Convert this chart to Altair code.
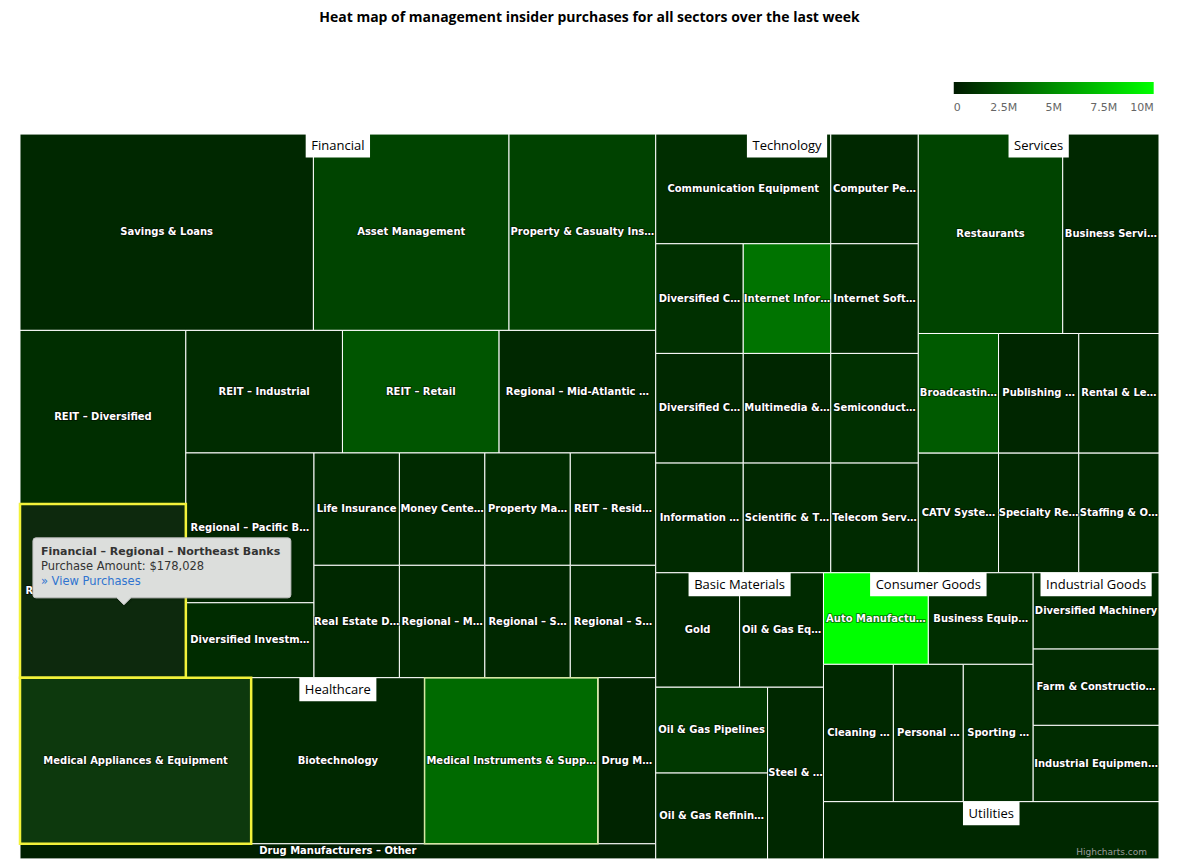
import math
import altair as alt
import pandas as pd

TITLE = "Heat map of management insider purchases for all sectors over the last week"

# ---------------------------------------------------------------- data
sectors = ["Basic Materials", "Consumer Goods", "Financial", "Healthcare",
           "Industrial Goods", "Services", "Technology", "Utilities"]

bm_names = ["Gold", "Oil & Gas Equipment & Services", "Oil & Gas Pipelines",
            "Oil & Gas Refining & Marketing", "Steel & Iron"]
bm_labels = ["Gold", "Oil & Gas Eq…", "Oil & Gas Pipelines", "Oil & Gas Refinin…", "Steel & …"]
bm_counts = [1, 1, 1, 1, 1]
bm_amounts = [610000, 700000, 1310000, 700000, 610000]

cg_names = ["Auto Manufacturers - Major", "Business Equipment", "Cleaning Products",
            "Personal Products", "Sporting Goods"]
cg_labels = ["Auto Manufactu…", "Business Equip…", "Cleaning …", "Personal …", "Sporting …"]
cg_counts = [1, 1, 1, 1, 1]
cg_amounts = [10000000, 870000, 610000, 610000, 790000]

fin_names = ["Asset Management", "Diversified Investments", "Life Insurance",
             "Money Center Banks", "Property & Casualty Insurance", "Property Management",
             "REIT - Diversified", "REIT - Industrial", "REIT - Residential", "REIT - Retail",
             "Real Estate Development", "Regional - Mid-Atlantic Banks",
             "Regional - Midwest Banks", "Regional - Northeast Banks",
             "Regional - Pacific Banks", "Regional - Southeast Banks",
             "Regional - Southwest Banks", "Savings & Loans"]
fin_labels = ["Asset Management", "Diversified Investm…", "Life Insurance", "Money Cente…",
              "Property & Casualty Ins…", "Property Ma…", "REIT – Diversified",
              "REIT – Industrial", "REIT – Resid…", "REIT – Retail", "Real Estate D…",
              "Regional – Mid-Atlantic …", "Regional – M…", "Regional – Northeast Banks",
              "Regional – Pacific B…", "Regional – S…", "Regional – S…", "Savings & Loans"]
fin_counts = [4, 1, 1, 1, 3, 1, 3, 2, 1, 2, 1, 2, 1, 3, 2, 1, 1, 6]
fin_amounts = [1830000, 790000, 790000, 700000, 1750000, 790000, 870000, 790000, 700000,
               2580000, 610000, 610000, 700000, 178028, 520000, 610000, 700000, 610000]

hc_names = ["Biotechnology", "Drug Manufacturers - Major", "Drug Manufacturers - Other",
            "Medical Appliances & Equipment", "Medical Instruments & Supplies"]
hc_labels = ["Biotechnology", "Drug M…", "Drug Manufacturers – Other",
             "Medical Appliances & Equipment", "Medical Instruments & Supp…"]
hc_counts = [3, 1, 1, 4, 3]
hc_amounts = [610000, 440000, 260000, 900000, 3500000]

ig_names = ["Diversified Machinery", "Farm & Construction Machinery",
            "Industrial Equipment & Components"]
ig_labels = ["Diversified Machinery", "Farm & Constructio…", "Industrial Equipmen…"]
ig_counts = [1, 1, 1]
ig_amounts = [790000, 700000, 790000]

sv_names = ["Broadcasting - TV", "Business Services", "CATV Systems",
            "Publishing - Periodicals", "Rental & Leasing Services", "Restaurants",
            "Specialty Retail, Other", "Staffing & Outsourcing Services"]
sv_labels = ["Broadcastin…", "Business Servi…", "CATV Syste…", "Publishing …",
             "Rental & Le…", "Restaurants", "Specialty Re…", "Staffing & O…"]
sv_counts = [1, 2, 1, 1, 1, 3, 1, 1]
sv_amounts = [2800000, 610000, 870000, 520000, 700000, 1830000, 610000, 700000]

te_names = ["Communication Equipment", "Computer Peripherals",
            "Diversified Communication Services", "Diversified Computer Systems",
            "Information & Delivery Services", "Internet Information Providers",
            "Internet Software & Services", "Multimedia & Graphics Software",
            "Scientific & Technical Instruments", "Semiconductor - Broad Line",
            "Telecom Services - Domestic"]
te_labels = ["Communication Equipment", "Computer Pe…", "Diversified C…", "Diversified C…",
             "Information …", "Internet Infor…", "Internet Soft…", "Multimedia &…",
             "Scientific & T…", "Semiconduct…", "Telecom Serv…"]
te_counts = [2, 1, 1, 1, 1, 1, 1, 1, 1, 1, 1]
te_amounts = [870000, 610000, 960000, 610000, 700000, 3900000, 700000, 520000,
              610000, 960000, 700000]

ut_names = ["Electric Utilities"]
ut_labels = [""]
ut_counts = [2]
ut_amounts = [610000]

hovered = ["Regional - Northeast Banks", "Medical Appliances & Equipment"]
fading = ["Medical Instruments & Supplies"]
tooltip_sector, tooltip_name = "Financial", "Regional - Northeast Banks"

legend_values = [0, 2500000, 5000000, 7500000, 10000000]

sector_data = {
    "Basic Materials": (bm_names, bm_labels, bm_counts, bm_amounts),
    "Consumer Goods": (cg_names, cg_labels, cg_counts, cg_amounts),
    "Financial": (fin_names, fin_labels, fin_counts, fin_amounts),
    "Healthcare": (hc_names, hc_labels, hc_counts, hc_amounts),
    "Industrial Goods": (ig_names, ig_labels, ig_counts, ig_amounts),
    "Services": (sv_names, sv_labels, sv_counts, sv_amounts),
    "Technology": (te_names, te_labels, te_counts, te_amounts),
    "Utilities": (ut_names, ut_labels, ut_counts, ut_amounts),
}

# ---------------------------------------------------------------- layout
W, H = 1139.3, 725.0
NAN = float("nan")


def _div(a, b):
    if a != a or b != b:
        return NAN
    if b == 0:
        return math.inf if a > 0 else NAN
    return a / b


def _ratio(w, h):
    if w != w or h != h:
        return NAN
    if w == 0 or h == 0 or math.isinf(w) or math.isinf(h):
        return math.inf
    return max(w / h, h / w)


def hc_squarified(px, py, pw, ph, vals, direction):
    """Highcharts' 'squarified' (low aspect ratio) treemap algorithm."""
    tot = float(sum(vals))
    out = []
    plot = {"x": px, "y": py}
    g = {"h": ph, "w": pw, "d": direction, "total": 0.0, "nW": 0.0, "lW": 0.0,
         "nH": 0.0, "lH": 0.0, "el": [], "lR": NAN, "nR": NAN}

    def add(el):
        lp = g["el"][-1] if g["el"] else NAN
        g["total"] += el
        if g["d"] == 0:
            g["lW"] = g["nW"]
            g["lR"] = _ratio(g["lW"], _div(lp, g["lW"]))
            g["nW"] = g["total"] / g["h"]
            g["nR"] = _ratio(g["nW"], _div(lp, g["nW"]))
        else:
            g["lH"] = g["nH"]
            g["lR"] = _ratio(_div(lp, g["lH"]), g["lH"])
            g["nH"] = g["total"] / g["w"]
            g["nR"] = _ratio(_div(lp, g["nH"]), g["nH"])
        g["el"].append(el)

    def calc(last):
        if last:
            gw, gh, keep = g["nW"], g["nH"], None
        else:
            gw, gh, keep = g["lW"], g["lH"], g["el"][-1]
        end = len(g["el"]) - 1
        for i, p in enumerate(g["el"]):
            if last or i < end:
                if g["d"] == 0:
                    ww, hh = gw, p / gw
                    out.append((plot["x"], plot["y"], ww, hh))
                    plot["y"] += hh
                else:
                    ww, hh = p / gh, gh
                    out.append((plot["x"], plot["y"], ww, hh))
                    plot["x"] += ww
        g["nW"] = 0.0
        g["lW"] = 0.0
        g["el"] = []
        g["total"] = 0.0
        if g["d"] == 0:
            g["w"] -= gw
        else:
            g["h"] -= gh
        plot["y"] = py + (ph - g["h"])
        plot["x"] = px + (pw - g["w"])
        g["d"] = 1 - g["d"]
        if not last:
            add(keep)

    n = len(vals)
    for i, v in enumerate(vals):
        add(pw * ph * v / tot)
        if g["nR"] > g["lR"]:
            calc(False)
        if i == n - 1:
            calc(True)
    return out


OPEN_SANS_EM = {" ": 0.26, "a": 0.556, "c": 0.476, "d": 0.613, "e": 0.561, "g": 0.546,
                "h": 0.613, "i": 0.258, "l": 0.258, "m": 0.932, "n": 0.613, "o": 0.601,
                "r": 0.408, "s": 0.477, "t": 0.353, "u": 0.613, "v": 0.5, "y": 0.5,
                "B": 0.648, "C": 0.631, "F": 0.516, "G": 0.728, "H": 0.739, "I": 0.279,
                "M": 0.907, "S": 0.549, "T": 0.556, "U": 0.728}


def text_width(s, size):
    return sum(OPEN_SANS_EM.get(ch, 0.58) for ch in s) * size


sector_totals = [sum(sector_data[s][2]) for s in sectors]
sec_order = sorted(range(len(sectors)), key=lambda i: -sector_totals[i])
sec_rects = hc_squarified(0.0, 0.0, W, H, [sector_totals[i] for i in sec_order], 0)

leaf_rows, sec_rows = [], []
for k, si in enumerate(sec_order):
    sname = sectors[si]
    sx, sy, sw, sh = sec_rects[k]
    names, labels, counts, amounts = sector_data[sname]
    lorder = sorted(range(len(names)), key=lambda j: -counts[j])
    lrects = hc_squarified(sx, sy, sw, sh, [counts[j] for j in lorder], 1)
    for m, j in enumerate(lorder):
        x, y, w, h = lrects[m]
        leaf_rows.append({"sector": sname, "name": names[j], "label": labels[j],
                          "count": counts[j], "amount": amounts[j],
                          "x0": x, "x1": x + w, "y0": y, "y1": y + h,
                          "cx": x + w / 2, "cy": y + h / 2})
    tw = text_width(sname, 13)
    cx = sx + sw / 2
    sec_rows.append({"sector": sname, "cx": cx, "bx0": cx - tw / 2 - 5.5,
                     "bx1": cx + tw / 2 + 5.5, "by0": sy, "by1": sy + 23.5,
                     "ty": sy + 12})

leaves = pd.DataFrame(leaf_rows)
secs = pd.DataFrame(sec_rows)

# tooltip anchored on the hovered cell (mouse position)
hov = leaves[leaves["name"] == tooltip_name].iloc[0]
tip_x, tip_y = hov["cx"] + 21, hov["cy"] + 14
tip_df = pd.DataFrame({"x": [tip_x], "y": [tip_y]})
TIP_PATH = ("M -88 -67 L 164 -67 Q 167 -67 167 -64 L 167 -10 Q 167 -7 164 -7 "
            "L 7 -7 L 0 0 L -7 -7 L -88 -7 Q -91 -7 -91 -10 L -91 -64 Q -91 -67 -88 -67 Z")
hdr = f"{tooltip_sector} – " + tooltip_name.replace(" - ", " – ")
amt = f"Purchase Amount: ${int(hov['amount']):,}"
tt_hdr = pd.DataFrame({"x": [tip_x - 83], "y": [tip_y - 52.5], "t": [hdr]})
tt_amt = pd.DataFrame({"x": [tip_x - 83], "y": [tip_y - 37.5], "t": [amt]})
tt_lnk = pd.DataFrame({"x": [tip_x - 83], "y": [tip_y - 22.5], "t": ["» View Purchases"]})

# ---------------------------------------------------------------- chart
MIN_C, MAX_C = "#001a00", "#00ff00"
xs = alt.Scale(domain=[0, W], nice=False, zero=False)
ys = alt.Scale(domain=[0, H], nice=False, zero=False, reverse=True)
cs = alt.Scale(domain=[0, 10000000], range=[MIN_C, MAX_C], interpolate="rgb", clamp=True)


def X(f):
    return alt.X(f"{f}:Q", scale=xs, axis=None)


def Y(f):
    return alt.Y(f"{f}:Q", scale=ys, axis=None)


legend = alt.Legend(orient="none", legendX=934, legendY=-52, direction="horizontal",
                    gradientLength=200, gradientThickness=12, title=None,
                    values=legend_values, gradientStrokeWidth=0, padding=0, offset=0,
                    labelFont="DejaVu Sans", labelFontSize=11, labelColor="#666666",
                    labelOffset=8, zindex=0,
                    labelExpr="datum.value == 0 ? '0' : format(datum.value / 1000000, '~g') + 'M'")

base = alt.Chart(leaves)
cells = base.mark_rect(stroke="#ffffff", strokeWidth=1).encode(
    x=X("x0"), x2="x1:Q", y=Y("y0"), y2="y1:Q",
    color=alt.Color("amount:Q", scale=cs, legend=legend),
    tooltip=["sector:N", "name:N", alt.Tooltip("amount:Q", format="$,.0f")])

bright = base.transform_filter(
    alt.FieldOneOfPredicate(field="name", oneOf=hovered)
).mark_rect(fill="#ffffff", opacity=0.05).encode(x=X("x0"), x2="x1:Q", y=Y("y0"), y2="y1:Q")

hl = base.transform_filter(
    alt.FieldOneOfPredicate(field="name", oneOf=hovered)
).mark_rect(filled=False, stroke="#f2f23a", strokeWidth=2.5).encode(
    x=X("x0"), x2="x1:Q", y=Y("y0"), y2="y1:Q")

fade = base.transform_filter(
    alt.FieldOneOfPredicate(field="name", oneOf=fading)
).mark_rect(filled=False, stroke="#d6e6a4", strokeWidth=1.5).encode(
    x=X("x0"), x2="x1:Q", y=Y("y0"), y2="y1:Q")

lab_out = base.mark_text(font="DejaVu Sans", fontSize=10, fontWeight="bold",
                         fill="#000000", stroke="#000000", strokeWidth=2,
                         strokeOpacity=0.45, strokeJoin="round", baseline="middle").encode(
    x=X("cx"), y=Y("cy"), text="label:N")
lab = base.mark_text(font="DejaVu Sans", fontSize=10, fontWeight="bold",
                     fill="#ffffff", baseline="middle").encode(
    x=X("cx"), y=Y("cy"), text="label:N")

sbase = alt.Chart(secs)
sbox = sbase.mark_rect(fill="#ffffff", strokeWidth=0).encode(
    x=X("bx0"), x2="bx1:Q", y=Y("by0"), y2="by1:Q")
stext = sbase.mark_text(font="Open Sans", fontSize=13, color="#000000",
                        baseline="middle").encode(x=X("cx"), y=Y("ty"), text="sector:N")

tshadow = alt.Chart(tip_df).transform_calculate(sx="datum.x + 1", sy="datum.y + 1").mark_point(
    shape=TIP_PATH, size=4, filled=False, stroke="#000000", strokeOpacity=0.08,
    strokeWidth=3, opacity=1).encode(x=X("sx"), y=Y("sy"))
tshape = alt.Chart(tip_df).mark_point(
    shape=TIP_PATH, size=4, filled=True, fill="#dcdedc", fillOpacity=1,
    stroke="#c2c2c2", strokeWidth=1, opacity=1).encode(x=X("x"), y=Y("y"))
thdr = alt.Chart(tt_hdr).mark_text(font="DejaVu Sans", fontSize=11, fontWeight="bold",
                                   color="#333333", align="left", baseline="middle").encode(
    x=X("x"), y=Y("y"), text="t:N")
tamt = alt.Chart(tt_amt).mark_text(font="DejaVu Sans", fontSize=11.5, color="#333333",
                                   align="left", baseline="middle").encode(
    x=X("x"), y=Y("y"), text="t:N")
tlnk = alt.Chart(tt_lnk).mark_text(font="DejaVu Sans", fontSize=11.5, color="#2f74d0",
                                   align="left", baseline="middle").encode(
    x=X("x"), y=Y("y"), text="t:N")

credits = alt.Chart(pd.DataFrame({"t": ["Highcharts.com"]})).mark_text(
    font="DejaVu Sans", fontSize=9, color="#9a9a9a", align="right", baseline="middle").encode(
    text="t:N", x=alt.value(W - 12), y=alt.value(717.7))

title = alt.Chart(pd.DataFrame({"t": [TITLE]})).mark_text(
    font="Open Sans", fontSize=14, fontWeight="bold", color="#000000",
    align="center", baseline="middle").encode(
    text="t:N", x=alt.value(W / 2), y=alt.value(-116))

dividers = alt.Chart(pd.DataFrame({"v": legend_values[1:-1]})).mark_rule(
    color="#ffffff", strokeWidth=1).encode(
    x=alt.X("v:Q", scale=alt.Scale(domain=[0, 10000000], range=[934, 1134]), axis=None),
    y=alt.value(-52), y2=alt.value(-40))

chart = alt.layer(
    cells, bright, hl, fade, lab_out, lab, sbox, stext,
    tshadow, tshape, thdr, tamt, tlnk, credits, title, dividers
).resolve_scale(x="independent").properties(
    width=W, height=H,
    autosize=alt.AutoSizeParams(type="none"),
    padding={"left": 20, "top": 134, "right": 21, "bottom": 8},
).configure_view(strokeWidth=0)

chart.save("out.html", embed_options={"renderer": "svg", "actions": False})
